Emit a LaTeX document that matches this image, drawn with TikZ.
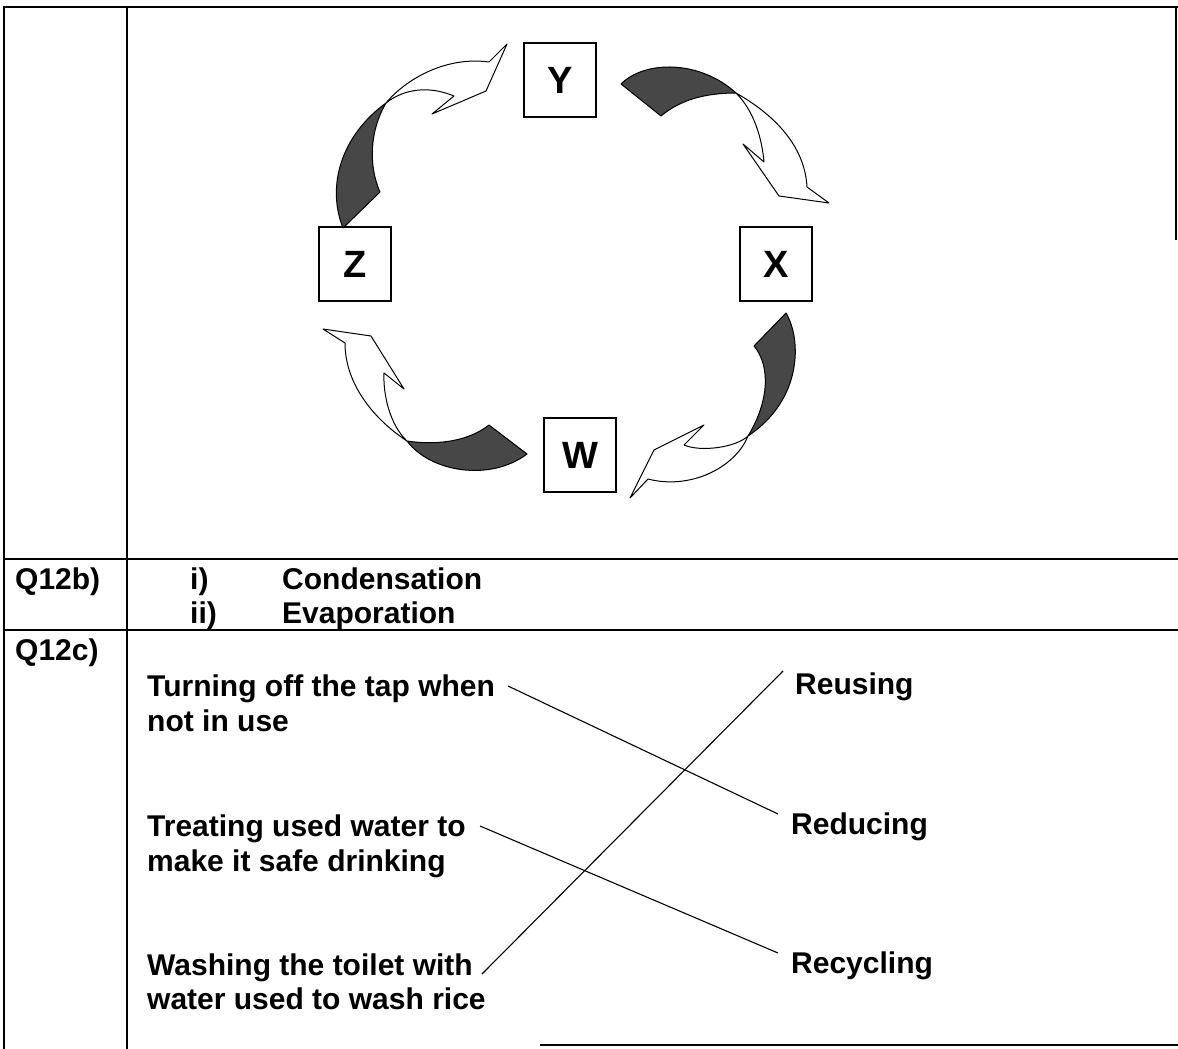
\documentclass[tikz,border=0pt]{standalone}
\usepackage{fontspec}
\setmainfont{Liberation Sans}
\begin{document}
\begin{tikzpicture}[x=1pt,y=-1pt,
  tbl/.style={line width=1.8pt},
  lbox/.style={draw,line width=1.3pt,minimum width=72pt,minimum height=74pt,inner sep=0pt,font=\fontsize{38}{40}\selectfont\bfseries},
  txt/.style={anchor=base west,inner sep=0pt,font=\fontsize{30}{35}\selectfont\bfseries},
  darkpart/.style={fill=black!72,draw=black,line width=1pt,line join=round},
  lightpart/.style={fill=white,draw=black,line width=1pt,line join=round},
  link/.style={line width=1.1pt}]
\useasboundingbox (0,0) rectangle (1178,1049);
% table lines
\draw[tbl] (4,1049) -- (4,7) -- (1178,7);
\draw[tbl] (127,7) -- (127,1049);
\draw[line width=1.2pt] (1176,7) -- (1176,240);
\draw[tbl] (4,559) -- (1178,559);
\draw[tbl] (4,630) -- (1178,630);
\draw[line width=1.4pt] (540,1045) -- (1178,1045);
% letter boxes
\node[lbox] (Y) at (560,80) {Y};
\node[lbox] (Z) at (355,264) {Z};
\node[lbox] (X) at (776,264) {X};
\node[lbox] (W) at (580,455) {W};
% arrow Z -> Y
\path[darkpart] (343,228) .. controls (326,185) and (342,135) .. (386,103)
  .. controls (370,130) and (368,165) .. (380,192) -- cycle;
\path[lightpart] (386,103) .. controls (405,80) and (445,56) .. (489,62)
  -- (507,44) -- (486,91) -- (432,114) -- (454,96)
  .. controls (430,86) and (405,88) .. (386,103) -- cycle;
% arrow Y -> X
\path[darkpart] (621,84) .. controls (645,60) and (700,60) .. (736,93)
  .. controls (705,93) and (680,100) .. (661,116) -- cycle;
\path[lightpart] (736,93) .. controls (780,118) and (805,150) .. (807,187)
  -- (829,203) -- (779,196) -- (743,144) -- (764,162)
  .. controls (762,140) and (755,112) .. (736,93) -- cycle;
% arrow X -> W
\path[darkpart] (786,313) .. controls (802,340) and (802,400) .. (748,436)
  .. controls (770,400) and (770,365) .. (754,346) -- cycle;
\path[lightpart] (748,436) .. controls (735,468) and (690,490) .. (648,479)
  -- (630,498) -- (654,450) -- (704,425) -- (684,445)
  .. controls (700,452) and (735,448) .. (748,436) -- cycle;
% arrow W -> Z
\path[darkpart] (489,425) .. controls (470,440) and (440,446) .. (407,441)
  .. controls (430,472) and (490,482) .. (527,454) -- cycle;
\path[lightpart] (407,441) .. controls (375,420) and (345,385) .. (345,343)
  -- (323,329) -- (371,336) -- (404,389) -- (384,373)
  .. controls (383,395) and (390,425) .. (407,441) -- cycle;
% Q12b
\node[txt] (qb) at (15,589) {Q12b)};
\node[txt] (qbi) at (190,589) {i)};
\node[txt] (qbc) at (282,589) {Condensation};
\node[txt] (qbii) at (190,623) {ii)};
\node[txt] (qbe) at (282,623) {Evaporation};
% Q12c
\node[txt] (qc) at (15,660) {Q12c)};
\node[txt] (a1) at (147,696) {Turning off the tap when};
\node[txt] (a2) at (147,731) {not in use};
\node[txt] (b1) at (147,836) {Treating used water to};
\node[txt] (b2) at (147,871) {make it safe drinking};
\node[txt] (c1) at (147,975) {Washing the toilet with};
\node[txt] (c2) at (147,1009) {water used to wash rice};
\node[txt] (reuse) at (795,694) {Reusing};
\node[txt] (reduce) at (791,834) {Reducing};
\node[txt] (recycle) at (791,973) {Recycling};
% link end points
\coordinate (pa) at (508,686);
\coordinate (pb) at (480,826);
\coordinate (pc) at (482,974);
\coordinate (qreuse) at (783,671);
\coordinate (qreduce) at (778,814);
\coordinate (qrecycle) at (778,953);
\draw[link] (pa) -- (qreduce);
\draw[link] (pb) -- (qrecycle);
\draw[link] (pc) -- (qreuse);
\end{tikzpicture}
\end{document}
